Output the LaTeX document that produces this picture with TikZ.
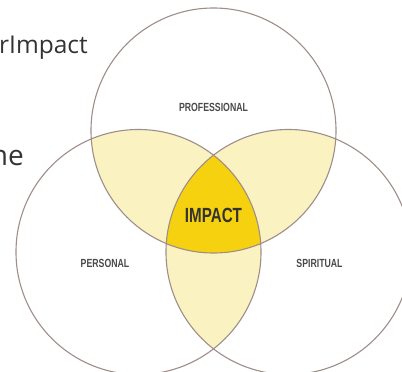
\documentclass[tikz,border=0pt]{standalone}
\usepackage{fontspec}
\setmainfont{Open Sans}
\newfontfamily\gothic[FakeStretch=0.74]{Liberation Sans}
\usetikzlibrary{positioning}

\definecolor{ringgray}{HTML}{9E8E8A}
\definecolor{paleyellow}{HTML}{FBF2C2}
\definecolor{gold}{HTML}{F6D10F}
\definecolor{labelgray}{HTML}{4A4A4A}
\definecolor{inkgray}{HTML}{333333}

\tikzset{
  ring/.style={draw=ringgray, line width=1.1pt},
  area/.style={inner sep=0pt, font=\gothic\bfseries\fontsize{11.8}{12}\selectfont, text=labelgray},
  center label/.style={inner sep=0pt, font=\gothic\bfseries\fontsize{20.5}{22}\selectfont, text=inkgray},
  cut text/.style={inner sep=0pt, anchor=base east, text=inkgray}
}

\begin{document}
\begin{tikzpicture}[x=1pt,y=-1pt]
\useasboundingbox (0,0) rectangle (402,372);
\clip (0,0) rectangle (402,372);

\coordinate (P) at (213.5,130.5);
\coordinate (L) at (138.5,252);
\coordinate (R) at (288.5,252);

% overlaps
\begin{scope}
  \clip (P) circle [radius=122.5pt];
  \fill[paleyellow] (L) circle [radius=122.5pt];
  \fill[paleyellow] (R) circle [radius=122.5pt];
\end{scope}
\begin{scope}
  \clip (L) circle [radius=122.5pt];
  \fill[paleyellow] (R) circle [radius=122.5pt];
  \clip (R) circle [radius=122.5pt];
  \fill[gold] (P) circle [radius=122.5pt];
\end{scope}

\draw[ring] (P) circle [radius=122.5pt];
\draw[ring] (L) circle [radius=122.5pt];
\draw[ring] (R) circle [radius=122.5pt];

\node[area] (professional) at (213.5,107) {PROFESSIONAL};
\node[area] (personal) at (105,263) {PERSONAL};
\node[area] (spiritual) at (319.5,263) {SPIRITUAL};
\node[center label] (impact) at (213.5,215.5) {IMPACT};

\node[cut text, font=\fontsize{24.5}{26}\selectfont] (line1) at (88,53) {rImpact};
\node[cut text, font=\fontsize{28}{30}\selectfont] (line2) at (24,165.5) {ne};
\end{tikzpicture}
\end{document}
